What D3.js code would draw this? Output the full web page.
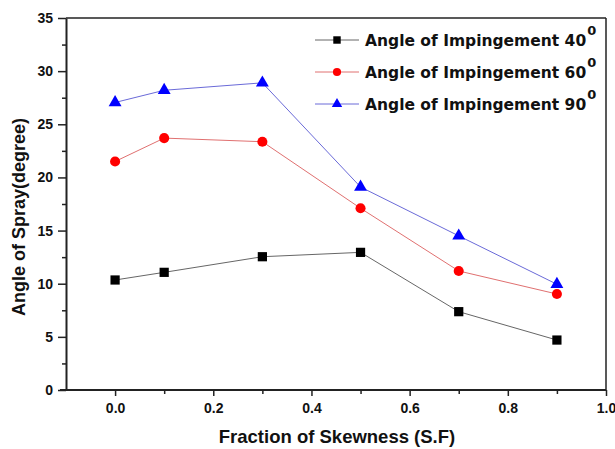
<!DOCTYPE html>
<html><head><meta charset="utf-8">
<script src="https://cdn.jsdelivr.net/npm/d3@7"></script>
<style>body{margin:0;background:#fff}svg{display:block}</style>
</head><body>
<svg id="c" width="615" height="449"></svg>
<script>
const skew = [0.0, 0.1, 0.3, 0.5, 0.7, 0.9];
const angle40 = [10.35, 11.07, 12.54, 12.95, 7.37, 4.70];
const angle60 = [21.5, 23.7, 23.36, 17.1, 11.2, 9.03];
const angle90 = [27.05, 28.2, 28.9, 19.1, 14.5, 9.95];
const seriesNames = ["Angle of Impingement 40", "Angle of Impingement 60", "Angle of Impingement 90"];
const xTicks = [0.0, 0.2, 0.4, 0.6, 0.8, 1.0];
const xMinor = [0.1, 0.3, 0.5, 0.7, 0.9];
const yTicks = [0, 5, 10, 15, 20, 25, 30, 35];
const yMinor = [2.5, 7.5, 12.5, 17.5, 22.5, 27.5, 32.5];

const svg = d3.select("#c");
const L = 66, R = 606, T = 18, B = 390;
const x = d3.scaleLinear().domain([-0.1, 1.0]).range([L, R]);
const y = d3.scaleLinear().domain([0, 35]).range([B, T]);

const series = [
  {name: seriesNames[0], vals: angle40, line: "#666", fill: "#000", sym: d3.symbolSquare, size: 85},
  {name: seriesNames[1], vals: angle60, line: "#e07070", fill: "#f00", sym: d3.symbolCircle, size: 80},
  {name: seriesNames[2], vals: angle90, line: "#6a6ad8", fill: "#00f", sym: d3.symbolTriangle, size: 72}
];

// frame top/right
svg.append("line").attr("x1", L).attr("x2", R).attr("y1", T).attr("y2", T).attr("stroke", "#222").attr("stroke-width", 1.5);
svg.append("line").attr("x1", R).attr("x2", R).attr("y1", T).attr("y2", B).attr("stroke", "#222").attr("stroke-width", 1.5);

const font = "Liberation Sans, Arial, sans-serif";
// x axis
const gx = svg.append("g").attr("transform", `translate(0,${B})`)
  .call(d3.axisBottom(x).tickValues(xTicks).tickFormat(d3.format(".1f")).tickSize(6).tickSizeOuter(0));
gx.select(".domain").attr("stroke", "#222").attr("stroke-width", 2).attr("d", `M${L - 6},0H${R}`);
gx.selectAll(".tick line").attr("stroke", "#222").attr("stroke-width", 1.5);
gx.selectAll(".tick text").attr("font-family", font).attr("font-weight", "bold").attr("font-size", 14).attr("fill", "#111").attr("dy", "1.0em");
svg.append("g").attr("transform", `translate(0,${B})`)
  .call(d3.axisBottom(x).tickValues(xMinor).tickFormat("").tickSize(4).tickSizeOuter(0))
  .call(g => { g.select(".domain").remove(); g.selectAll("line").attr("stroke", "#222").attr("stroke-width", 1.5); });

// y axis
const gy = svg.append("g").attr("transform", `translate(${L},0)`)
  .call(d3.axisLeft(y).tickValues(yTicks).tickSize(8).tickSizeOuter(0));
gy.select(".domain").attr("stroke", "#222").attr("stroke-width", 2);
gy.selectAll(".tick line").attr("stroke", "#222").attr("stroke-width", 1.5);
gy.selectAll(".tick text").attr("font-family", font).attr("font-weight", "bold").attr("font-size", 14).attr("fill", "#111").attr("x", -13);
svg.append("g").attr("transform", `translate(${L},0)`)
  .call(d3.axisLeft(y).tickValues(yMinor).tickFormat("").tickSize(4).tickSizeOuter(0))
  .call(g => { g.select(".domain").remove(); g.selectAll("line").attr("stroke", "#222").attr("stroke-width", 1.5); });

// titles
svg.append("text").attr("x", 337).attr("y", 443).attr("text-anchor", "middle")
  .attr("font-family", font).attr("font-weight", "bold").attr("font-size", 18.5).attr("fill", "#111")
  .text("Fraction of Skewness (S.F)");
svg.append("text").attr("transform", "translate(25,217) rotate(-90)").attr("text-anchor", "middle")
  .attr("font-family", font).attr("font-weight", "bold").attr("font-size", 18).attr("fill", "#111")
  .text("Angle of Spray(degree)");

// lines and markers
const lineGen = d3.line().x((d, i) => x(skew[i])).y(d => y(d));
series.forEach(s => {
  svg.append("path").attr("d", lineGen(s.vals)).attr("fill", "none").attr("stroke", s.line).attr("stroke-width", 1);
  svg.selectAll(null).data(s.vals).enter().append("path")
    .attr("d", d3.symbol().type(s.sym).size(s.size))
    .attr("transform", (d, i) => `translate(${x(skew[i])},${y(d)})`)
    .attr("fill", s.fill);
});

// legend
const legY = [40, 72, 104];
const lfont = "DejaVu Sans, Verdana, sans-serif";
series.forEach((s, i) => {
  const g = svg.append("g").attr("transform", `translate(0,${legY[i]})`);
  g.append("line").attr("x1", 315).attr("x2", 359).attr("stroke", s.line).attr("stroke-width", 1);
  g.append("path").attr("d", d3.symbol().type(s.sym).size(s.size * 0.65)).attr("transform", "translate(337,0)").attr("fill", s.fill);
  const t = g.append("text").attr("x", 365).attr("y", 6).attr("font-family", lfont)
    .attr("font-weight", "bold").attr("font-size", 15.5).attr("fill", "#111").text(s.name);
  g.append("text").attr("x", 365 + t.node().getComputedTextLength() + 1).attr("y", -5)
    .attr("font-family", lfont).attr("font-weight", "bold").attr("font-size", 13).attr("fill", "#111").text("0");
});
</script>
</body></html>
